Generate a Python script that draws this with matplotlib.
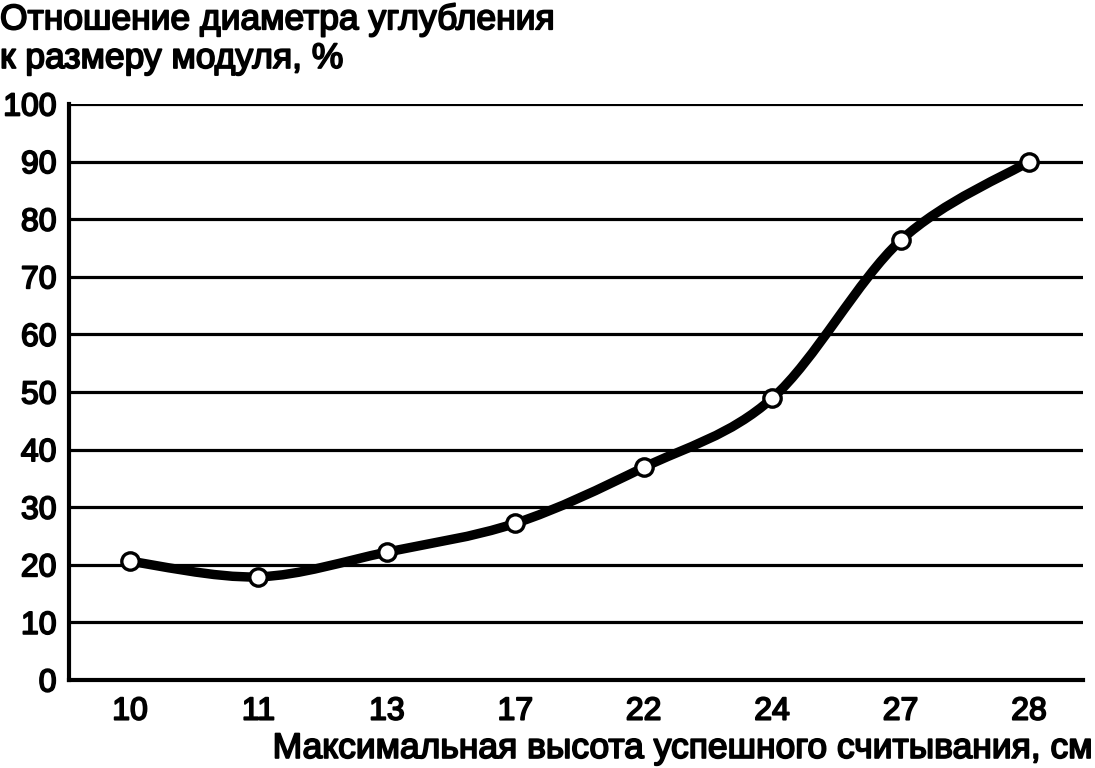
import numpy as np
import matplotlib.pyplot as plt
import matplotlib.patheffects as pe
from matplotlib.path import Path
from matplotlib.patches import PathPatch

plt.rcParams['font.family'] = ['Liberation Sans', 'DejaVu Sans']

heights = ["10", "11", "13", "17", "22", "24", "27", "28"]
ratios = [20.6, 17.9, 22.2, 27.2, 36.9, 48.9, 76.3, 90.0]
y_ticks = list(range(0, 101, 10))

# slightly heavier glyphs, like the scanned original
heavy = [pe.withStroke(linewidth=1.3, foreground='black')]


def smooth_path(xs, ys, tension=1 / 6):
    # Catmull-Rom style cubic Bezier segments through the points
    pts = np.column_stack([xs, ys]).astype(float)
    verts = [pts[0]]
    codes = [Path.MOVETO]
    n = len(pts)
    for i in range(n - 1):
        p0 = pts[i - 1] if i > 0 else pts[i]
        p1 = pts[i]
        p2 = pts[i + 1]
        p3 = pts[i + 2] if i + 2 < n else pts[i + 1]
        c1 = p1 + (p2 - p0) * tension
        c2 = p2 - (p3 - p1) * tension
        verts += [c1, c2, p2]
        codes += [Path.CURVE4] * 3
    return Path(verts, codes)


fig = plt.figure(figsize=(10.95, 7.68), dpi=100)
ax = fig.add_axes([0.063, 0.1146, 0.926, 0.75])

x = np.arange(len(heights))
ax.set_xlim(-0.475, 7.42)
ax.set_ylim(0, 100)

for v in y_ticks[1:]:
    ax.axhline(v, color='black', lw=2.3, zorder=1)

ax.add_patch(PathPatch(smooth_path(x, ratios), facecolor='none',
                       edgecolor='black', lw=6.8, capstyle='round', zorder=3))
ax.plot(x, ratios, linestyle='none', marker='o', markersize=12.5,
        markerfacecolor='white', markeredgecolor='black', markeredgewidth=2.4,
        zorder=4)

ax.set_xticks(x)
ax.set_xticklabels(heights)
ax.set_yticks(y_ticks)
ax.tick_params(axis='both', length=0, labelsize=23)
ax.tick_params(axis='x', pad=12)
ax.tick_params(axis='y', pad=9)
for lab in ax.get_xticklabels() + ax.get_yticklabels():
    lab.set_path_effects(heavy)

for s in ['top', 'right']:
    ax.spines[s].set_visible(False)
for s in ['left', 'bottom']:
    ax.spines[s].set_linewidth(3)

fig.text(0.0, 0.996, "Отношение диаметра углубления\nк размеру модуля, %",
         ha='left', va='top', fontsize=25.5, linespacing=1.22,
         path_effects=heavy)
fig.text(0.999, 0.004, "Максимальная высота успешного считывания, см",
         ha='right', va='bottom', fontsize=25.5, path_effects=heavy)

fig.savefig("out.png", dpi=100)
